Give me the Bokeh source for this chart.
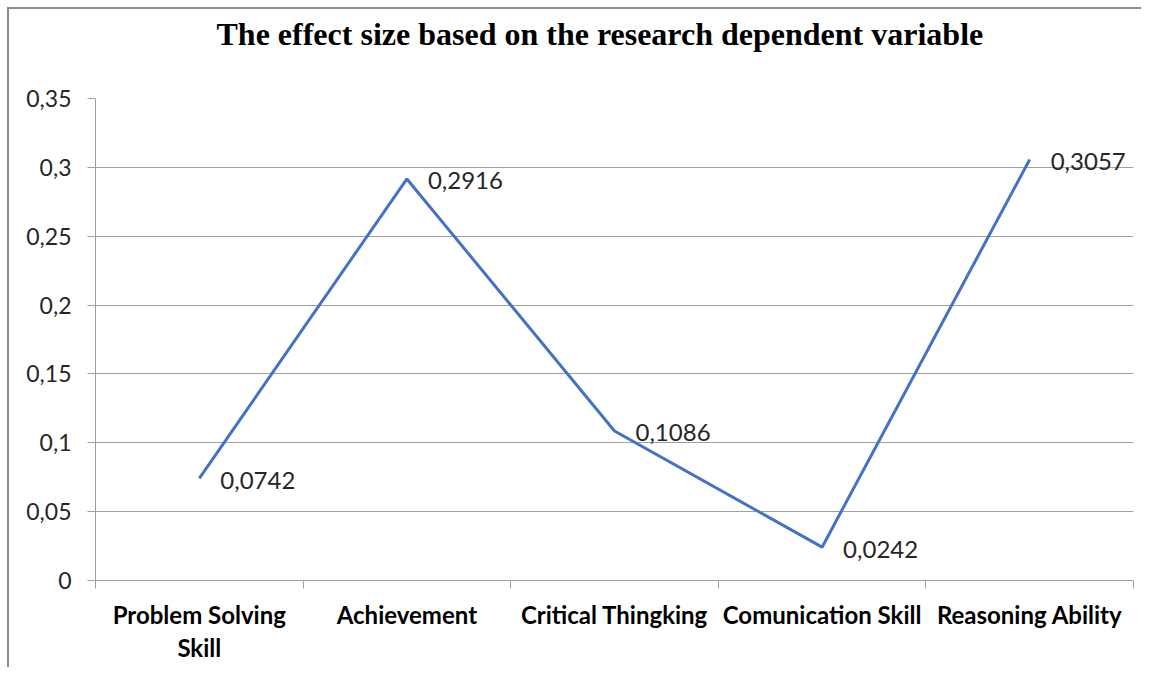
from bokeh.plotting import figure
from bokeh.models import (Range1d, LinearAxis, FixedTicker, CustomJSTickFormatter,
                          ColumnDataSource, Title)
from bokeh.core.properties import value
from bokeh.embed import file_html
from bokeh.resources import INLINE

categories = ["Problem Solving\nSkill", "Achievement", "Critical Thingking",
              "Comunication Skill", "Reasoning Ability"]
effect_sizes = [0.0742, 0.2916, 0.1086, 0.0242, 0.3057]
y_ticks = [0, 0.05, 0.1, 0.15, 0.2, 0.25, 0.3, 0.35]
title_text = "The effect size based on the research dependent variable"

n = len(categories)
centers = [i + 0.5 for i in range(n)]
labels = [str(v).replace(".", ",") for v in effect_sizes]
src = ColumnDataSource(data=dict(x=centers, val=effect_sizes, lab=labels))

GRAY = "#a0a0a0"

p = figure(width=1134, height=660, x_range=Range1d(0, n),
           y_range=Range1d(0, 0.35), output_backend="svg", toolbar_location=None,
           x_axis_location=None, y_axis_location=None,
           min_border_left=86, min_border_right=10, min_border_top=89, min_border_bottom=89)
p.styles = {"margin-left": "7px", "margin-top": "7px",
            "border-left": "2px solid #8c8c8c", "border-top": "2px solid #8c8c8c"}
p.outline_line_color = None
p.background_fill_color = "white"
p.border_fill_color = "white"

# main title
p.title.text = title_text
p.title.text_font = "Liberation Serif"
p.title.text_font_style = "bold"
p.title.text_font_size = "32px"
p.title.align = "left"
p.title.offset = 121
p.title.standoff = 0
p.title.text_color = "black"

# spacer between frame and the title (added later -> closer to the frame)
spacer = Title(text=" ", text_font_size="1px", standoff=44)
p.add_layout(spacer, "above")

# y axis
yax = LinearAxis(ticker=FixedTicker(ticks=y_ticks),
                 formatter=CustomJSTickFormatter(code="return tick.toString().replace('.', ',');"))
yax.axis_line_color = GRAY
yax.major_tick_line_color = GRAY
yax.major_tick_out = 8
yax.major_tick_in = 0
yax.minor_tick_line_color = None
yax.major_label_text_font = "Lato"
yax.major_label_text_font_size = "23px"
yax.major_label_text_color = "#262626"
yax.major_label_standoff = 16
p.add_layout(yax, "left")

# x boundary ticks
bax = LinearAxis(ticker=FixedTicker(ticks=list(range(n + 1))),
                 major_label_overrides={i: "" for i in range(n + 1)})
bax.axis_line_color = GRAY
bax.major_tick_line_color = GRAY
bax.major_tick_out = 8
bax.major_tick_in = 0
bax.minor_tick_line_color = None
bax.major_label_text_font_size = "1px"
bax.major_label_standoff = 0
p.add_layout(bax, "below")

# category labels
cax = LinearAxis(ticker=FixedTicker(ticks=centers),
                 major_label_overrides={c: lab for c, lab in zip(centers, categories)})
cax.axis_line_color = None
cax.major_tick_line_color = None
cax.minor_tick_line_color = None
cax.major_label_text_font = "Lato"
cax.major_label_text_font_style = "bold"
cax.major_label_text_font_size = "24px"
cax.major_label_text_color = "black"
cax.major_label_text_line_height = 1.15
cax.major_label_standoff = 5
p.add_layout(cax, "below")

p.xgrid.grid_line_color = None
p.ygrid.grid_line_color = GRAY
p.ygrid.ticker = FixedTicker(ticks=y_ticks)

p.line("x", "val", source=src, line_color="#4472C4", line_width=3)
p.text("x", "val", text="lab", source=src, x_offset=21, y_offset=2,
       text_baseline="middle", text_align="left", text_font=value("Lato"),
       text_font_size="24px", text_color="#262626")

open("out.html", "w").write(file_html(p, INLINE))
